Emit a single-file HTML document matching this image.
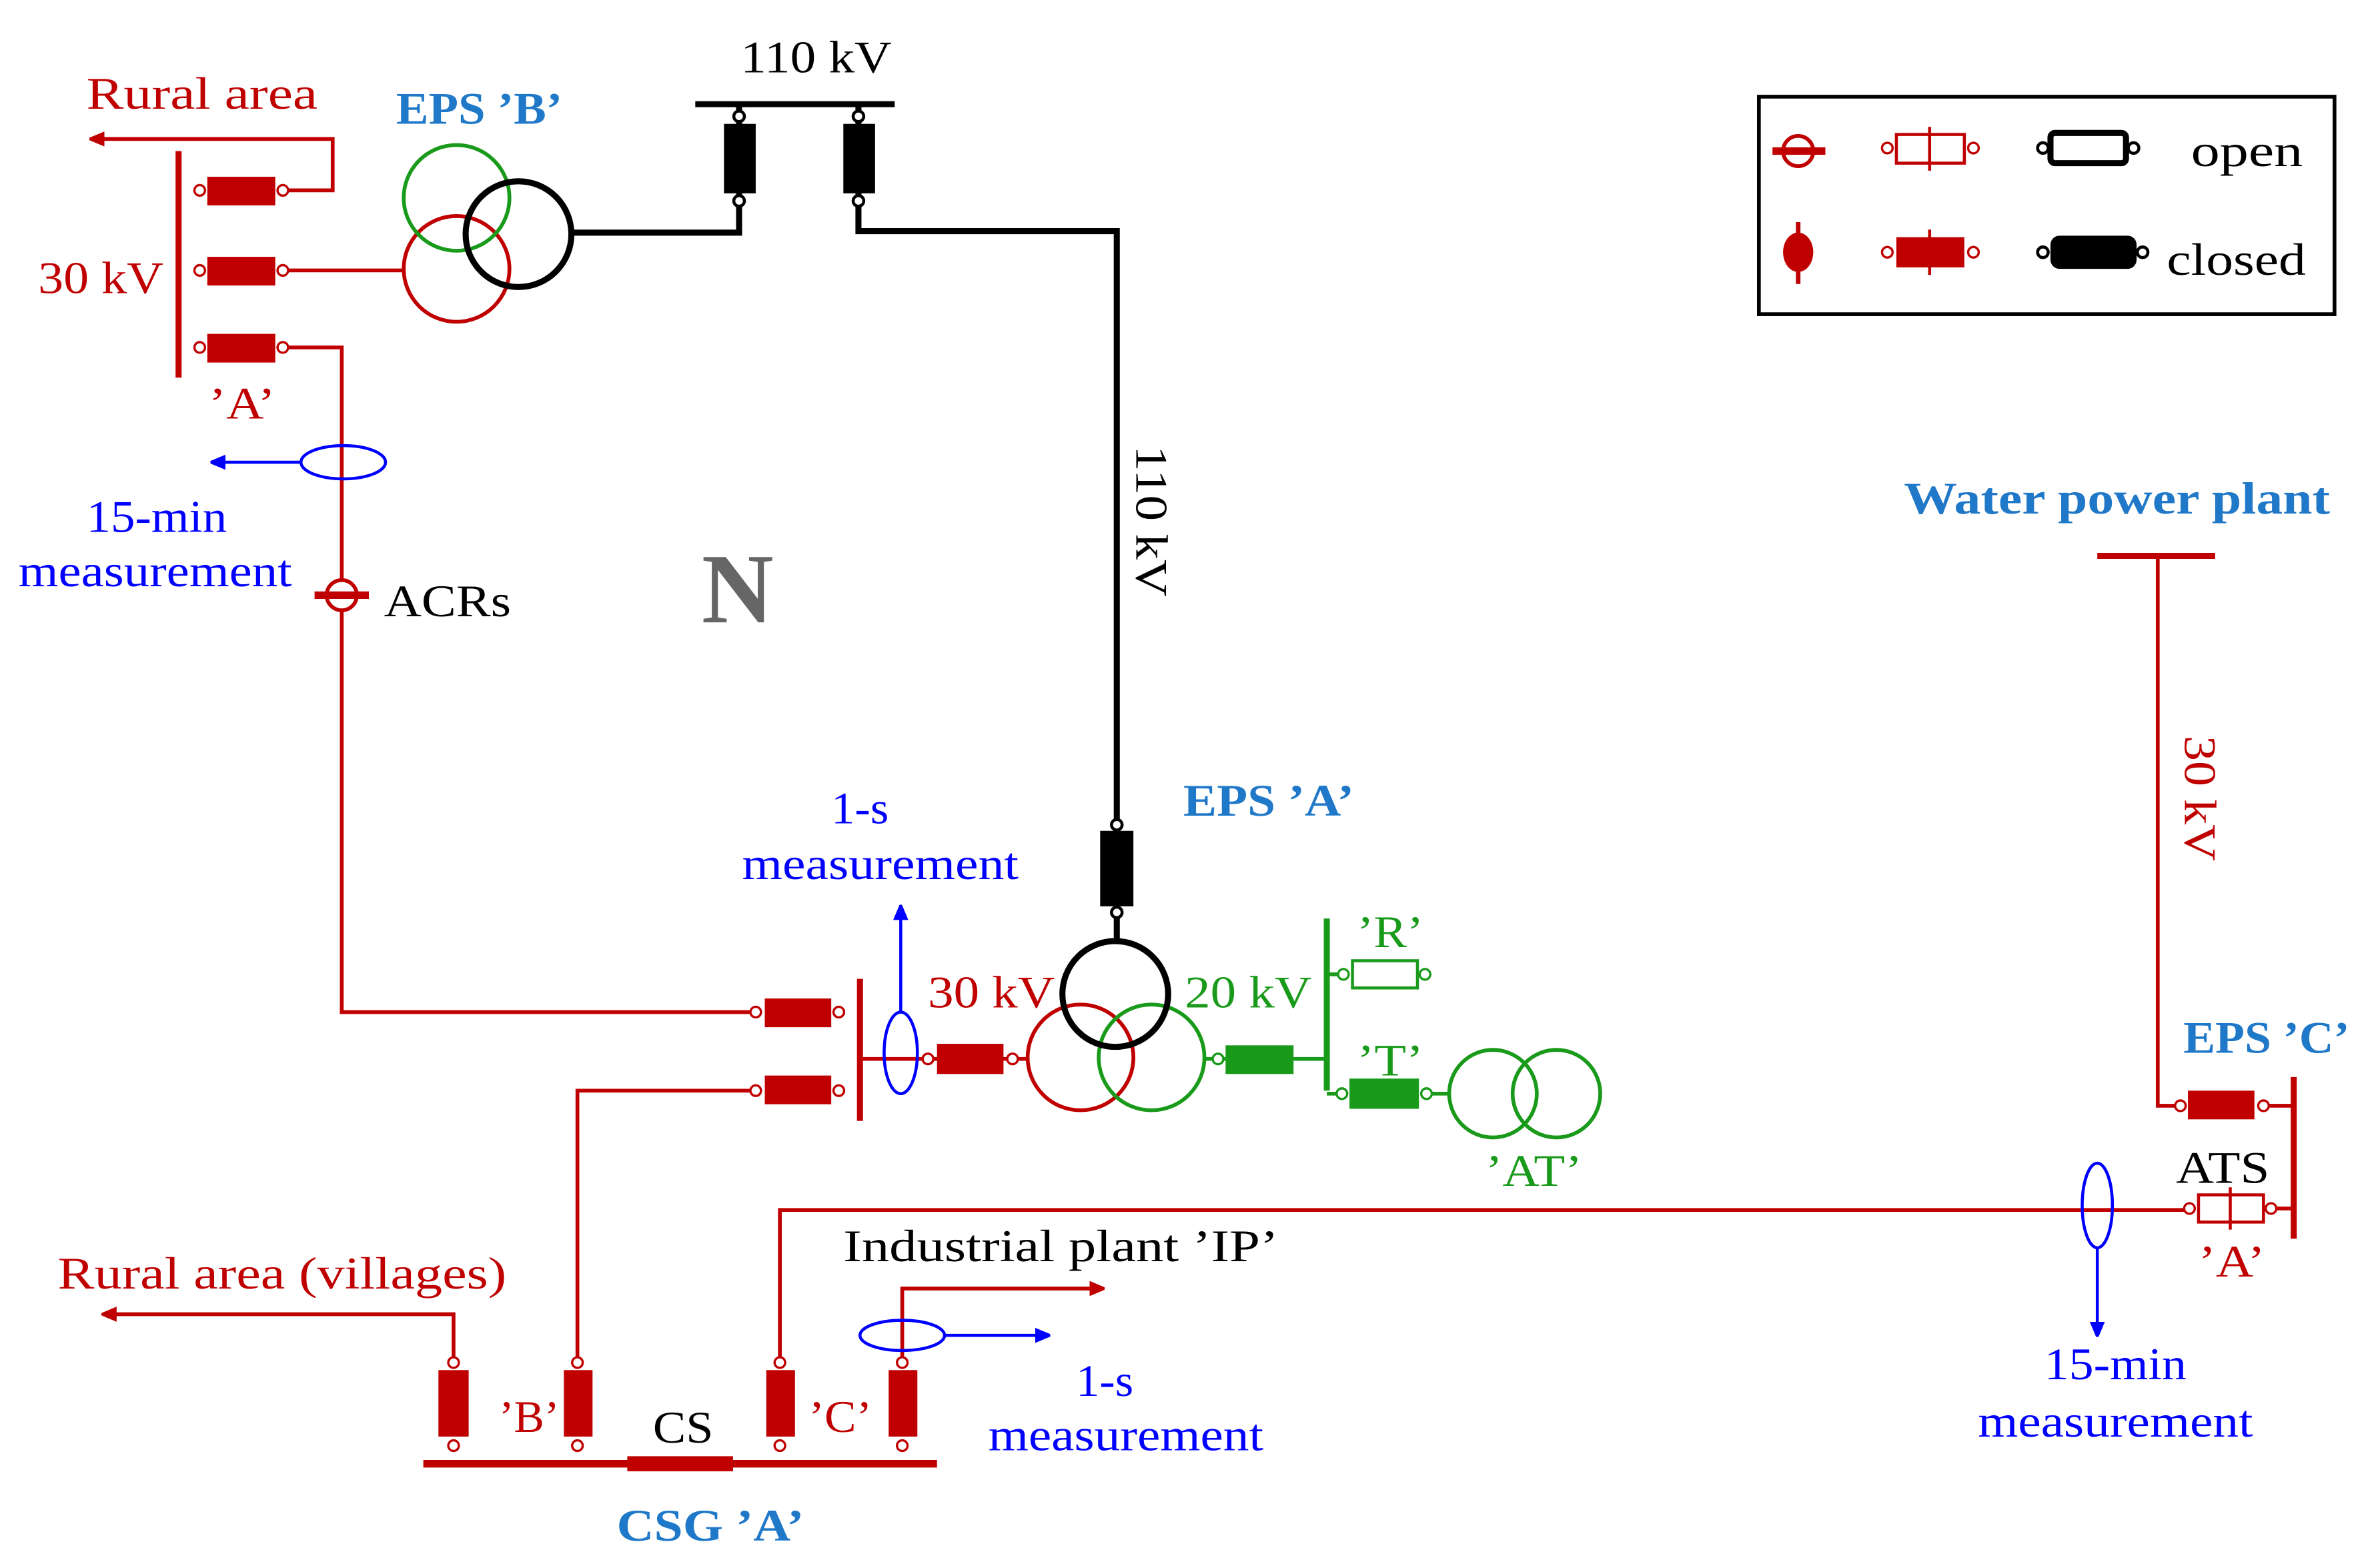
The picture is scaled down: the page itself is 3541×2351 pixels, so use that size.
<!DOCTYPE html>
<html><head><meta charset="utf-8"><style>html,body{margin:0;padding:0;background:#fff}svg{display:block}</style></head><body>
<svg width="3541" height="2351" viewBox="0 0 1563 1038" xmlns="http://www.w3.org/2000/svg" font-family="Liberation Serif, serif">
<defs>
<marker id="ar" markerWidth="10" markerHeight="10" refX="9" refY="5" orient="auto" markerUnits="userSpaceOnUse"><path d="M0,0 L12,5 L0,10 z" fill="#c00000"/></marker>
<marker id="ab" markerWidth="10" markerHeight="10" refX="9" refY="5" orient="auto" markerUnits="userSpaceOnUse"><path d="M0,0 L12,5 L0,10 z" fill="#0000ff"/></marker>
</defs>
<g fill="none" stroke-width="2.5">
<line x1="460" y1="69" x2="592" y2="69" stroke="#000" stroke-width="4"/>
<polyline points="489,69 489,154 378,154" stroke="#000" stroke-width="4"/>
<polyline points="568,69 568,153 739,153 739,623" stroke="#000" stroke-width="4"/>
<g stroke="#c00000">
<line x1="118" y1="100" x2="118" y2="250" stroke-width="4"/>
<polyline points="187,126 220,126 220,92 60,92" marker-end="url(#ar)"/>
<line x1="187" y1="179" x2="267" y2="179"/>
<polyline points="187,230 226,230 226,670 500,670"/>
<line x1="569" y1="648" x2="569" y2="742" stroke-width="4"/>
<line x1="569" y1="701" x2="680" y2="701"/>
<polyline points="500,722 382,722 382,902"/>
<line x1="280" y1="969" x2="620" y2="969" stroke-width="5"/>
<polyline points="300,902 300,870 68,870" marker-end="url(#ar)"/>
<polyline points="516,902 516,801 1449,801"/>
<polyline points="597,902 597,853 730,853" marker-end="url(#ar)"/>
<line x1="1388" y1="368" x2="1466" y2="368" stroke-width="4"/>
<polyline points="1428,368 1428,732 1443,732"/>
<line x1="1498" y1="732" x2="1518" y2="732"/>
<line x1="1503" y1="800" x2="1518" y2="800"/>
<line x1="1518" y1="713" x2="1518" y2="820" stroke-width="4"/>
<circle cx="302" cy="178" r="35"/>
<circle cx="715" cy="700" r="35"/>
</g>
<g stroke="#1a9a1a">
<circle cx="302" cy="131" r="35"/>
<circle cx="762" cy="700" r="35"/>
<line x1="797" y1="701" x2="811" y2="701"/>
<line x1="856" y1="701" x2="878" y2="701"/>
<line x1="878" y1="608" x2="878" y2="722" stroke-width="4"/>
<line x1="878" y1="645" x2="888" y2="645"/>
<line x1="878" y1="724" x2="888" y2="724"/>
<line x1="944" y1="724" x2="959" y2="724"/>
<circle cx="988" cy="724" r="29"/>
<circle cx="1030" cy="724" r="29"/>
<rect x="895" y="636" width="43" height="18" stroke-width="2"/>
<circle cx="889" cy="645" r="3.5" stroke-width="1.5" fill="#fff"/>
<circle cx="943" cy="645" r="3.5" stroke-width="1.5" fill="#fff"/>
</g>
<circle cx="343" cy="155" r="35" stroke="#000" stroke-width="4"/>
<circle cx="738" cy="658" r="35" stroke="#000" stroke-width="4"/>
<g stroke="#0000ff" stroke-width="2">
<ellipse cx="227" cy="306" rx="28" ry="11"/>
<line x1="199" y1="306" x2="140" y2="306" marker-end="url(#ab)"/>
<ellipse cx="596" cy="697" rx="11" ry="27"/>
<line x1="596" y1="670" x2="596" y2="600" marker-end="url(#ab)"/>
<ellipse cx="597" cy="884" rx="28" ry="10"/>
<line x1="625" y1="884" x2="694" y2="884" marker-end="url(#ab)"/>
<ellipse cx="1388" cy="798" rx="10" ry="28"/>
<line x1="1388" y1="826" x2="1388" y2="884" marker-end="url(#ab)"/>
</g>
</g>
<g fill="#000">
<rect x="479" y="82" width="21" height="46"/><rect x="558" y="82" width="21" height="46"/>
<rect x="728" y="550" width="22" height="50"/>
</g>
<g fill="#fff" stroke="#000" stroke-width="2">
<circle cx="489" cy="77" r="3.5"/><circle cx="489" cy="133" r="3.5"/>
<circle cx="568" cy="77" r="3.5"/><circle cx="568" cy="133" r="3.5"/>
<circle cx="739" cy="546" r="3.5"/><circle cx="739" cy="604" r="3.5"/>
</g>
<g fill="#c00000">
<rect x="137" y="117" width="45" height="19"/><rect x="137" y="170" width="45" height="19"/><rect x="137" y="221" width="45" height="19"/>
<rect x="506" y="661" width="44" height="19"/><rect x="506" y="712" width="44" height="19"/>
<rect x="620" y="691" width="44" height="20"/>
<rect x="290" y="907" width="20" height="44"/><rect x="373" y="907" width="19" height="44"/><rect x="507" y="907" width="19" height="44"/><rect x="588" y="907" width="19" height="44"/>
<rect x="415" y="964" width="70" height="10"/>
<rect x="1448" y="722" width="44" height="19"/>
</g>
<rect x="1455" y="791" width="43" height="18" fill="#fff" stroke="#c00000" stroke-width="2"/>
<line x1="1476" y1="786" x2="1476" y2="814" stroke="#c00000" stroke-width="2"/>
<g fill="#fff" stroke="#c00000" stroke-width="1.5">
<circle cx="132" cy="126" r="3.5"/><circle cx="187" cy="126" r="3.5"/>
<circle cx="132" cy="179" r="3.5"/><circle cx="187" cy="179" r="3.5"/>
<circle cx="132" cy="230" r="3.5"/><circle cx="187" cy="230" r="3.5"/>
<circle cx="500" cy="670" r="3.5"/><circle cx="555" cy="670" r="3.5"/>
<circle cx="500" cy="722" r="3.5"/><circle cx="555" cy="722" r="3.5"/>
<circle cx="614" cy="701" r="3.5"/><circle cx="670" cy="701" r="3.5"/>
<circle cx="300" cy="902" r="3.5"/><circle cx="300" cy="957" r="3.5"/>
<circle cx="382" cy="902" r="3.5"/><circle cx="382" cy="957" r="3.5"/>
<circle cx="516" cy="902" r="3.5"/><circle cx="516" cy="957" r="3.5"/>
<circle cx="597" cy="902" r="3.5"/><circle cx="597" cy="957" r="3.5"/>
<circle cx="1443" cy="732" r="3.5"/><circle cx="1498" cy="732" r="3.5"/>
<circle cx="1449" cy="800" r="3.5"/><circle cx="1503" cy="800" r="3.5"/>
</g>
<g fill="#1a9a1a"><rect x="811" y="692" width="45" height="19"/><rect x="893" y="714" width="46" height="20"/></g>
<g fill="#fff" stroke="#1a9a1a" stroke-width="1.5"><circle cx="806" cy="701" r="3.5"/><circle cx="888" cy="724" r="3.5"/><circle cx="944" cy="724" r="3.5"/></g>
<ellipse cx="226" cy="394" rx="10" ry="10" fill="#fff" stroke="#c00000" stroke-width="2.5"/>
<line x1="208" y1="394" x2="244" y2="394" stroke="#c00000" stroke-width="5"/>
<rect x="1164" y="64" width="381" height="144" fill="none" stroke="#000" stroke-width="2.5"/>
<ellipse cx="1190" cy="100" rx="10" ry="10" fill="#fff" stroke="#c00000" stroke-width="2.5"/>
<line x1="1173" y1="100" x2="1208" y2="100" stroke="#c00000" stroke-width="5"/>
<ellipse cx="1190" cy="167" rx="10" ry="13" fill="#c00000"/>
<line x1="1190" y1="147" x2="1190" y2="188" stroke="#c00000" stroke-width="3"/>
<rect x="1255" y="89" width="45" height="19" fill="#fff" stroke="#c00000" stroke-width="2"/>
<line x1="1277" y1="84" x2="1277" y2="113" stroke="#c00000" stroke-width="2"/>
<rect x="1255" y="157" width="45" height="20" fill="#c00000"/>
<line x1="1277" y1="152" x2="1277" y2="182" stroke="#c00000" stroke-width="2"/>
<g fill="#fff" stroke="#c00000" stroke-width="1.5"><circle cx="1249" cy="98" r="3.5"/><circle cx="1306" cy="98" r="3.5"/><circle cx="1249" cy="167" r="3.5"/><circle cx="1306" cy="167" r="3.5"/></g>
<rect x="1357" y="88" width="50" height="20" rx="3" fill="#fff" stroke="#000" stroke-width="4"/>
<rect x="1357" y="156" width="57" height="22" rx="6" fill="#000"/>
<g fill="#fff" stroke="#000" stroke-width="2"><circle cx="1352" cy="98" r="3.5"/><circle cx="1412" cy="98" r="3.5"/><circle cx="1352" cy="167" r="3.5"/><circle cx="1418" cy="167" r="3.5"/></g>
<g font-size="30" lengthAdjust="spacingAndGlyphs">
<text x="490" y="48" textLength="100" lengthAdjust="spacingAndGlyphs" fill="#000">110 kV</text>
<text x="1450" y="110" textLength="74" lengthAdjust="spacingAndGlyphs" fill="#000">open</text>
<text x="1434" y="182" textLength="92" lengthAdjust="spacingAndGlyphs" fill="#000">closed</text>
<text x="57" y="72" textLength="153" lengthAdjust="spacingAndGlyphs" fill="#c00000">Rural area</text>
<text x="25" y="194" textLength="83" lengthAdjust="spacingAndGlyphs" fill="#c00000">30 kV</text>
<text x="138" y="277" textLength="44" lengthAdjust="spacingAndGlyphs" fill="#c00000">’A’</text>
<text x="254" y="408" textLength="84" lengthAdjust="spacingAndGlyphs" fill="#000">ACRs</text>
<text x="57" y="352" textLength="93" lengthAdjust="spacingAndGlyphs" fill="#0000ff">15-min</text>
<text x="12" y="388" textLength="181" lengthAdjust="spacingAndGlyphs" fill="#0000ff">measurement</text>
<text x="550" y="545" textLength="38" lengthAdjust="spacingAndGlyphs" fill="#0000ff">1-s</text>
<text x="491" y="582" textLength="183" lengthAdjust="spacingAndGlyphs" fill="#0000ff">measurement</text>
<text x="614" y="667" textLength="84" lengthAdjust="spacingAndGlyphs" fill="#c00000">30 kV</text>
<text x="784" y="667" textLength="84" lengthAdjust="spacingAndGlyphs" fill="#1a9a1a">20 kV</text>
<text x="898" y="627" textLength="44" lengthAdjust="spacingAndGlyphs" fill="#1a9a1a">’R’</text>
<text x="898" y="712" textLength="44" lengthAdjust="spacingAndGlyphs" fill="#1a9a1a">’T’</text>
<text x="983" y="785" textLength="64" lengthAdjust="spacingAndGlyphs" fill="#1a9a1a">’AT’</text>
<text x="38" y="853" textLength="297" lengthAdjust="spacingAndGlyphs" fill="#c00000">Rural area (villages)</text>
<text x="558" y="835" textLength="288" lengthAdjust="spacingAndGlyphs" fill="#000">Industrial plant ’IP’</text>
<text x="712" y="924" textLength="38" lengthAdjust="spacingAndGlyphs" fill="#0000ff">1-s</text>
<text x="654" y="960" textLength="182" lengthAdjust="spacingAndGlyphs" fill="#0000ff">measurement</text>
<text x="330" y="948" textLength="40" lengthAdjust="spacingAndGlyphs" fill="#c00000">’B’</text>
<text x="535" y="948" textLength="42" lengthAdjust="spacingAndGlyphs" fill="#c00000">’C’</text>
<text x="432" y="955" textLength="40" lengthAdjust="spacingAndGlyphs" fill="#000">CS</text>
<text x="1440" y="783" textLength="62" lengthAdjust="spacingAndGlyphs" fill="#000">ATS</text>
<text x="1455" y="845" textLength="44" lengthAdjust="spacingAndGlyphs" fill="#c00000">’A’</text>
<text x="1353" y="913" textLength="94" lengthAdjust="spacingAndGlyphs" fill="#0000ff">15-min</text>
<text x="1309" y="951" textLength="182" lengthAdjust="spacingAndGlyphs" fill="#0000ff">measurement</text>
<text transform="translate(752,295) rotate(90)" textLength="100" lengthAdjust="spacingAndGlyphs" fill="#000">110 kV</text>
<text transform="translate(1446,487) rotate(90)" textLength="83" lengthAdjust="spacingAndGlyphs" fill="#c00000">30 kV</text>
</g>
<g font-size="30" font-weight="bold" fill="#1f78c8">
<text x="262" y="82" textLength="110" lengthAdjust="spacingAndGlyphs">EPS ’B’</text>
<text x="783" y="540" textLength="113" lengthAdjust="spacingAndGlyphs">EPS ’A’</text>
<text x="1445" y="697" textLength="110" lengthAdjust="spacingAndGlyphs">EPS ’C’</text>
<text x="1260" y="340" textLength="282" lengthAdjust="spacingAndGlyphs">Water power plant</text>
<text x="408" y="1020" textLength="124" lengthAdjust="spacingAndGlyphs">CSG ’A’</text>
</g>
<text x="488" y="412" font-size="66" font-weight="bold" fill="#666" text-anchor="middle">N</text>
</svg>
</body></html>
